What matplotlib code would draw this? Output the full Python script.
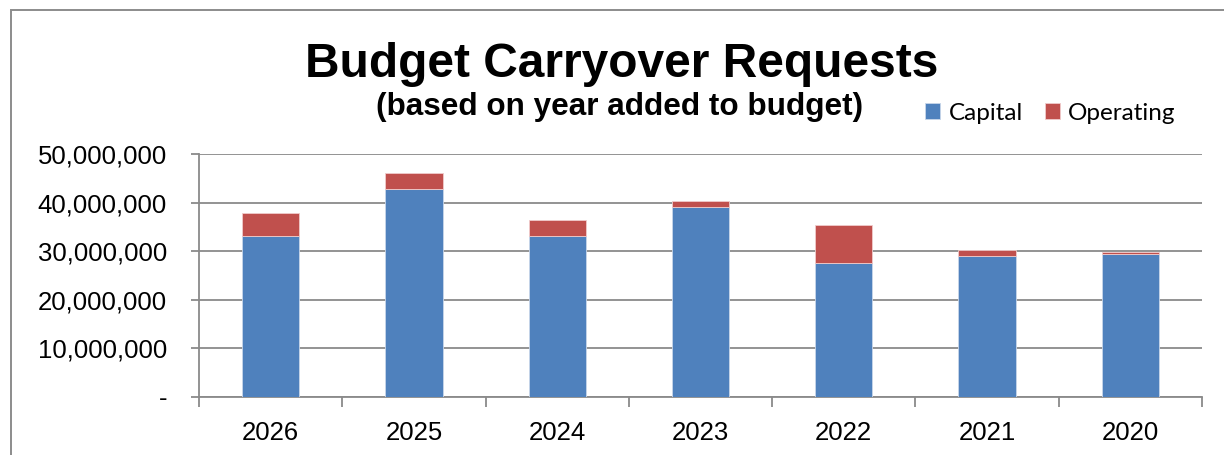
import matplotlib.pyplot as plt
from matplotlib.patches import Rectangle
from matplotlib.ticker import FuncFormatter

years = ['2026', '2025', '2024', '2023', '2022', '2021', '2020']
capital = [33200000, 42700000, 33200000, 39000000, 27500000, 28950000, 29500000]
operating = [4600000, 3300000, 3300000, 1400000, 7950000, 1300000, 400000]

W, H = 1224, 455
fig = plt.figure(figsize=(W / 100, H / 100), dpi=100)

# outer chart frame (cut off at right and bottom like the screenshot)
fig.patches.append(Rectangle((11 / W, -0.1), 1.1, 1 - 10 / H + 0.1, transform=fig.transFigure,
                             fill=False, edgecolor='#8c8c8c', linewidth=1.4))

ax = fig.add_axes([199 / W, 1 - 397 / H, (1202 - 199) / W, (397 - 154) / H])

x = list(range(len(years)))
ax.bar(x, capital, width=0.4, color='#4F81BD', edgecolor='#c8d6ea', linewidth=0.6,
       label='Capital', zorder=3)
ax.bar(x, operating, bottom=capital, width=0.4, color='#C0504D', edgecolor='#f0cccc',
       linewidth=0.6, label='Operating', zorder=3)

ax.set_xlim(-0.5, len(years) - 0.5)
ax.set_ylim(0, 50000000)
ax.set_yticks(range(0, 50000001, 10000000))
ax.yaxis.set_major_formatter(FuncFormatter(lambda v, p: '-' if v == 0 else '{:,.0f}'.format(v)))
ax.yaxis.grid(True, color='#8a8a8a', linewidth=1.3, zorder=0)

ax.set_xticks(x)
ax.set_xticklabels(years)
ax.set_xticks([i - 0.5 for i in range(len(years) + 1)], minor=True)
ax.tick_params(axis='x', which='major', length=0, pad=17, labelsize=18.5)
ax.tick_params(axis='x', which='minor', length=7, width=1.3, color='#8a8a8a', direction='out')
ax.tick_params(axis='y', length=6, width=1.3, color='#8a8a8a', pad=17, labelsize=18.5)
for lab in ax.get_xticklabels() + ax.get_yticklabels():
    lab.set_fontfamily('Liberation Sans')

for s in ['top', 'right']:
    ax.spines[s].set_visible(False)
for s in ['left', 'bottom']:
    ax.spines[s].set_color('#8a8a8a')
    ax.spines[s].set_linewidth(1.3)

fig.text(622 / W, 1 - 77 / H, 'Budget Carryover Requests', ha='center', va='baseline',
         fontsize=34.5, fontweight='bold', family='Liberation Sans')
fig.text(620 / W, 1 - 115 / H, '(based on year added to budget)', ha='center', va='baseline',
         fontsize=22.7, fontweight='bold', family='Liberation Sans')

handles, labels = ax.get_legend_handles_labels()
fig.legend(handles, labels, loc='center left', bbox_to_anchor=(925 / W, 1 - 113 / H),
           ncol=2, frameon=False, prop={'family': 'Lato', 'size': 17.5},
           handlelength=0.62, handleheight=0.62, handletextpad=0.35, columnspacing=0.9,
           borderaxespad=0, borderpad=0)

fig.savefig('out.png', dpi=100)
